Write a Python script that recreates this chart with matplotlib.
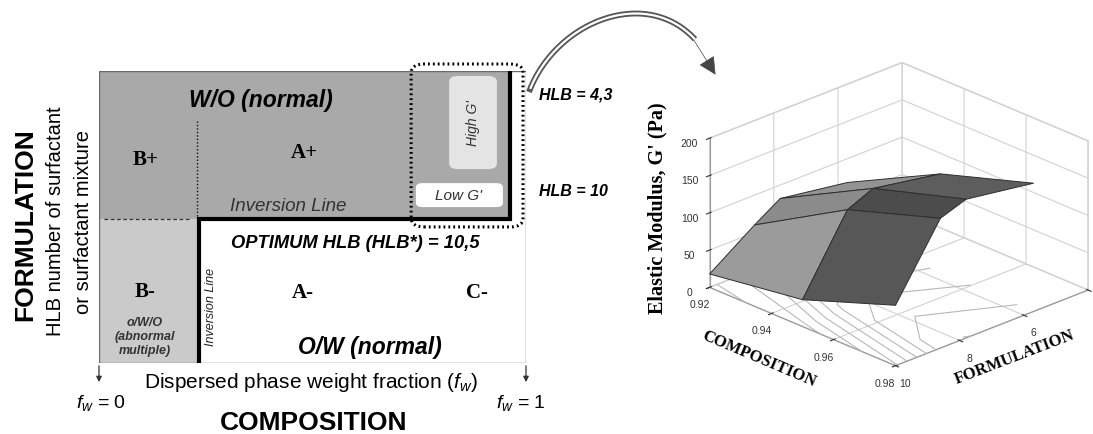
import numpy as np
import matplotlib
matplotlib.use('Agg')
import matplotlib.pyplot as plt
from matplotlib.patches import Rectangle, FancyBboxPatch, FancyArrowPatch

plt.rcParams['font.family'] = ['Liberation Sans', 'DejaVu Sans']
plt.rcParams['mathtext.fontset'] = 'custom'
plt.rcParams['mathtext.it'] = 'Liberation Sans:italic'
plt.rcParams['mathtext.rm'] = 'Liberation Sans'
plt.rcParams['grid.color'] = '#d2d2d2'
plt.rcParams['grid.linewidth'] = 0.8

# --- 3D data: elastic modulus G' (Pa) vs composition and formulation (HLB)
comp = [0.92, 0.95, 0.98]
hlb = [10, 8.6, 7.8, 5.7]
gprime = [[18, 60, 82, 68],      # fw = 0.92
          [36, 133, 148, 132],   # fw = 0.95
          [81, 174, 186, 172]]   # fw = 0.98
comp_ticks = [0.92, 0.94, 0.96, 0.98]
hlb_ticks = [4, 6, 8, 10]
g_ticks = [0, 50, 100, 150, 200]

# --- map (normalised fw / formulation coordinates)
fw_inv = 0.234      # inversion line, fw
y_opt = 0.493       # optimum HLB line
fw_right = 0.9625
hlb_marks = ['HLB = 4,3', 'HLB = 10']

SERIF = 'Liberation Serif'
W, H = 1093, 435

fig = plt.figure(figsize=(10.93, 4.35), dpi=100)

# ---------------- left: formulation-composition map
ax = fig.add_axes([99 / W, 1 - 364 / H, 427 / W, 292 / H])
ax.set_xlim(0, 1)
ax.set_ylim(0, 1)
ax.axis('off')

ax.add_patch(Rectangle((0, y_opt), fw_right, 1 - y_opt, fc='#a9a9a9', ec='none', zorder=1))
ax.add_patch(Rectangle((0, 0), fw_inv, y_opt, fc='#cacaca', ec='none', zorder=1))
ax.add_patch(Rectangle((0, 0), 1, 1, fc='none', ec='#6a6a6a', lw=1.0, zorder=3))

# inversion line
ax.plot([fw_inv, fw_inv, fw_right, fw_right], [0, y_opt, y_opt, 1],
        color='black', lw=3.0, solid_joinstyle='miter', zorder=5)
ax.plot([0.23, 0.23], [y_opt + 0.01, 0.832], color='#111111', lw=1.0, ls=(0, (1, 1.5)), zorder=4)
ax.plot([0.012, 0.211], [y_opt, y_opt], color='#333333', lw=0.9, ls=(0, (3, 2)), zorder=4)

# G' zone
ax.add_patch(FancyBboxPatch((0.82, 0.664), 0.112, 0.319, boxstyle='round,pad=0,rounding_size=0.02',
                            fc='#e4e4e4', ec='none', zorder=2))
ax.add_patch(FancyBboxPatch((0.742, 0.534), 0.204, 0.082, boxstyle='round,pad=0,rounding_size=0.015',
                            fc='white', ec='none', zorder=2))
ax.add_patch(FancyBboxPatch((0.731, 0.466), 0.262, 0.558, boxstyle='round,pad=0,rounding_size=0.03',
                            fc='none', ec='black', lw=2.2, ls=(0, (0.6, 1.0)), zorder=6, clip_on=False))

ax.text(0.876, 0.825, "High G'", rotation=90, style='italic', fontsize=10, color='#333333',
        ha='center', va='center', zorder=7)
ax.text(0.843, 0.574, "Low G'", style='italic', fontsize=11, color='#333333',
        ha='center', va='center', zorder=7)

ax.text(0.379, 0.904, 'W/O (normal)', fontsize=16.5, weight='bold', style='italic',
        ha='center', va='center', zorder=7)
ax.text(0.635, 0.058, 'O/W (normal)', fontsize=16.5, weight='bold', style='italic',
        ha='center', va='center', zorder=7)
for lab, x, y in [('B+', 0.110, 0.699), ('A+', 0.480, 0.723), ('B-', 0.108, 0.247),
                  ('A-', 0.478, 0.243), ('C-', 0.885, 0.243)]:
    ax.text(x, y, lab, family=SERIF, fontsize=15, weight='bold', ha='center', va='center', zorder=7)

ax.text(0.443, 0.540, 'Inversion Line', style='italic', fontsize=13.5, color='#333333',
        ha='center', va='center', zorder=7)
ax.text(0.262, 0.195, 'Inversion Line', style='italic', fontsize=9, color='#222222',
        rotation=90, ha='center', va='center', zorder=7)
ax.text(0.600, 0.414, 'OPTIMUM HLB (HLB*) = 10,5', fontsize=13.2, weight='bold', style='italic',
        ha='center', va='center', zorder=7)
ax.text(0.108, 0.092, 'o/W/O\n(abnormal\nmultiple)', fontsize=9, weight='bold', style='italic',
        color='#333333', ha='center', va='center', linespacing=1.25, zorder=7)

for lab, y in zip(hlb_marks, [0.921, 0.592]):
    ax.text(1.030, y, lab, fontsize=11.5, weight='bold', style='italic', ha='left', va='center',
            clip_on=False)

# fw arrows
for x in [0, 1]:
    ax.annotate('', xy=(x, -0.075), xytext=(x, 0), annotation_clip=False,
                arrowprops=dict(arrowstyle='-|>', color='#333333', lw=0.9, mutation_scale=8))
ax.text(0.005, -0.135, r'$f_w$ = 0', fontsize=14, ha='center', va='center', clip_on=False)
ax.text(0.988, -0.135, r'$f_w$ = 1', fontsize=14, ha='center', va='center', clip_on=False)
ax.text(0.497, -0.062, r'Dispersed phase weight fraction ($f_w$)', fontsize=15,
        ha='center', va='center', clip_on=False)
ax.text(0.503, -0.202, 'COMPOSITION', fontsize=19, weight='bold', ha='center', va='center',
        clip_on=False)
ax.text(-0.173, 0.476, 'FORMULATION', fontsize=19, weight='bold', rotation=90,
        ha='center', va='center', clip_on=False)
ax.text(-0.103, 0.49, 'HLB number of surfactant', fontsize=14.5, rotation=90,
        ha='center', va='center', clip_on=False)
ax.text(-0.037, 0.486, 'or surfactant mixture', fontsize=14.5, rotation=90,
        ha='center', va='center', clip_on=False)

# ---------------- right: 3D surface
ax3 = fig.add_axes([0.6174, 0.033, 0.40, 0.92], projection='3d')
ax3.set_facecolor('none')
ax3.set_proj_type('ortho')
ax3.view_init(elev=24, azim=46)
ax3.set_box_aspect((1, 1, 0.61))
ax3.computed_zorder = False

X, Y = np.meshgrid(hlb, comp)
Z = np.array(gprime, dtype=float)

light = ['#9b9b9b', '#8b8b8b', '#939393', '#939393']
dark = ['#575757', '#4c4c4c', '#5d5d5d', '#5d5d5d']
fcol = np.empty(Z.shape, dtype=object)
for j in range(Z.shape[1]):
    fcol[0, j] = light[j]
    fcol[1, j] = dark[j]
    fcol[2, j] = dark[j]

ax3.contour(X, Y, Z, levels=np.arange(25, 190, 20), zdir='z', offset=0,
            colors='#b8b8b8', linewidths=0.8, zorder=1)
ax3.plot_surface(X, Y, Z, facecolors=fcol, shade=False, edgecolor='#2e2e2e',
                 linewidth=0.7, zorder=2)

ax3.set_xlim(4, 10)
ax3.set_ylim(0.92, 0.98)
ax3.set_zlim(0, 200)
ax3.set_xticks(hlb_ticks)
ax3.set_yticks(comp_ticks)
ax3.set_zticks(g_ticks)
ax3.set_yticklabels([f'{v:.2f}' for v in comp_ticks])
ax3.tick_params(labelsize=7.5, colors='#333333', pad=0)
for axis in (ax3.xaxis, ax3.yaxis, ax3.zaxis):
    axis.set_pane_color((1, 1, 1, 1))
    axis.pane.set_edgecolor('#d2d2d2')
    axis.line.set_color('#9a9a9a')
    axis.line.set_linewidth(0.8)

# axis titles of the 3D plot, aligned with the drawn axes
fig.text(657 / W, 1 - 208 / H, "Elastic Modulus, G' (Pa)", family=SERIF, weight='bold',
         fontsize=14.5, rotation=90, ha='center', va='center')
fig.text(759 / W, 1 - 359 / H, 'COMPOSITION', family=SERIF, weight='bold',
         fontsize=12, rotation=-23, ha='center', va='center', rotation_mode='anchor')
fig.text(1015 / W, 1 - 357 / H, 'FORMULATION', family=SERIF, weight='bold',
         fontsize=12, rotation=21, ha='center', va='center', rotation_mode='anchor')

# ---------------- curved arrow linking the two panels (pixel overlay)
ov = fig.add_axes([0, 0, 1, 1])
ov.set_xlim(0, W)
ov.set_ylim(H, 0)
ov.axis('off')
ov.patch.set_alpha(0)
p0, c1, c2, p3 = map(np.array, [(529, 93), (560, 10), (680, -25), (717, 78)])
t = np.linspace(0, 1, 80)[:, None]
curve = (1 - t) ** 3 * p0 + 3 * (1 - t) ** 2 * t * c1 + 3 * (1 - t) * t ** 2 * c2 + t ** 3 * p3
k = 68
ov.plot(curve[:k, 0], curve[:k, 1], color='#555555', lw=4.2, solid_capstyle='butt')
ov.plot(curve[1:k, 0], curve[1:k, 1], color='white', lw=1.6, solid_capstyle='butt')
ov.add_patch(FancyArrowPatch(tuple(curve[k - 3]), tuple(p3), arrowstyle='-|>', mutation_scale=28,
                             color='#444444', lw=0.5))

fig.savefig('out.png', dpi=100, facecolor='white')
